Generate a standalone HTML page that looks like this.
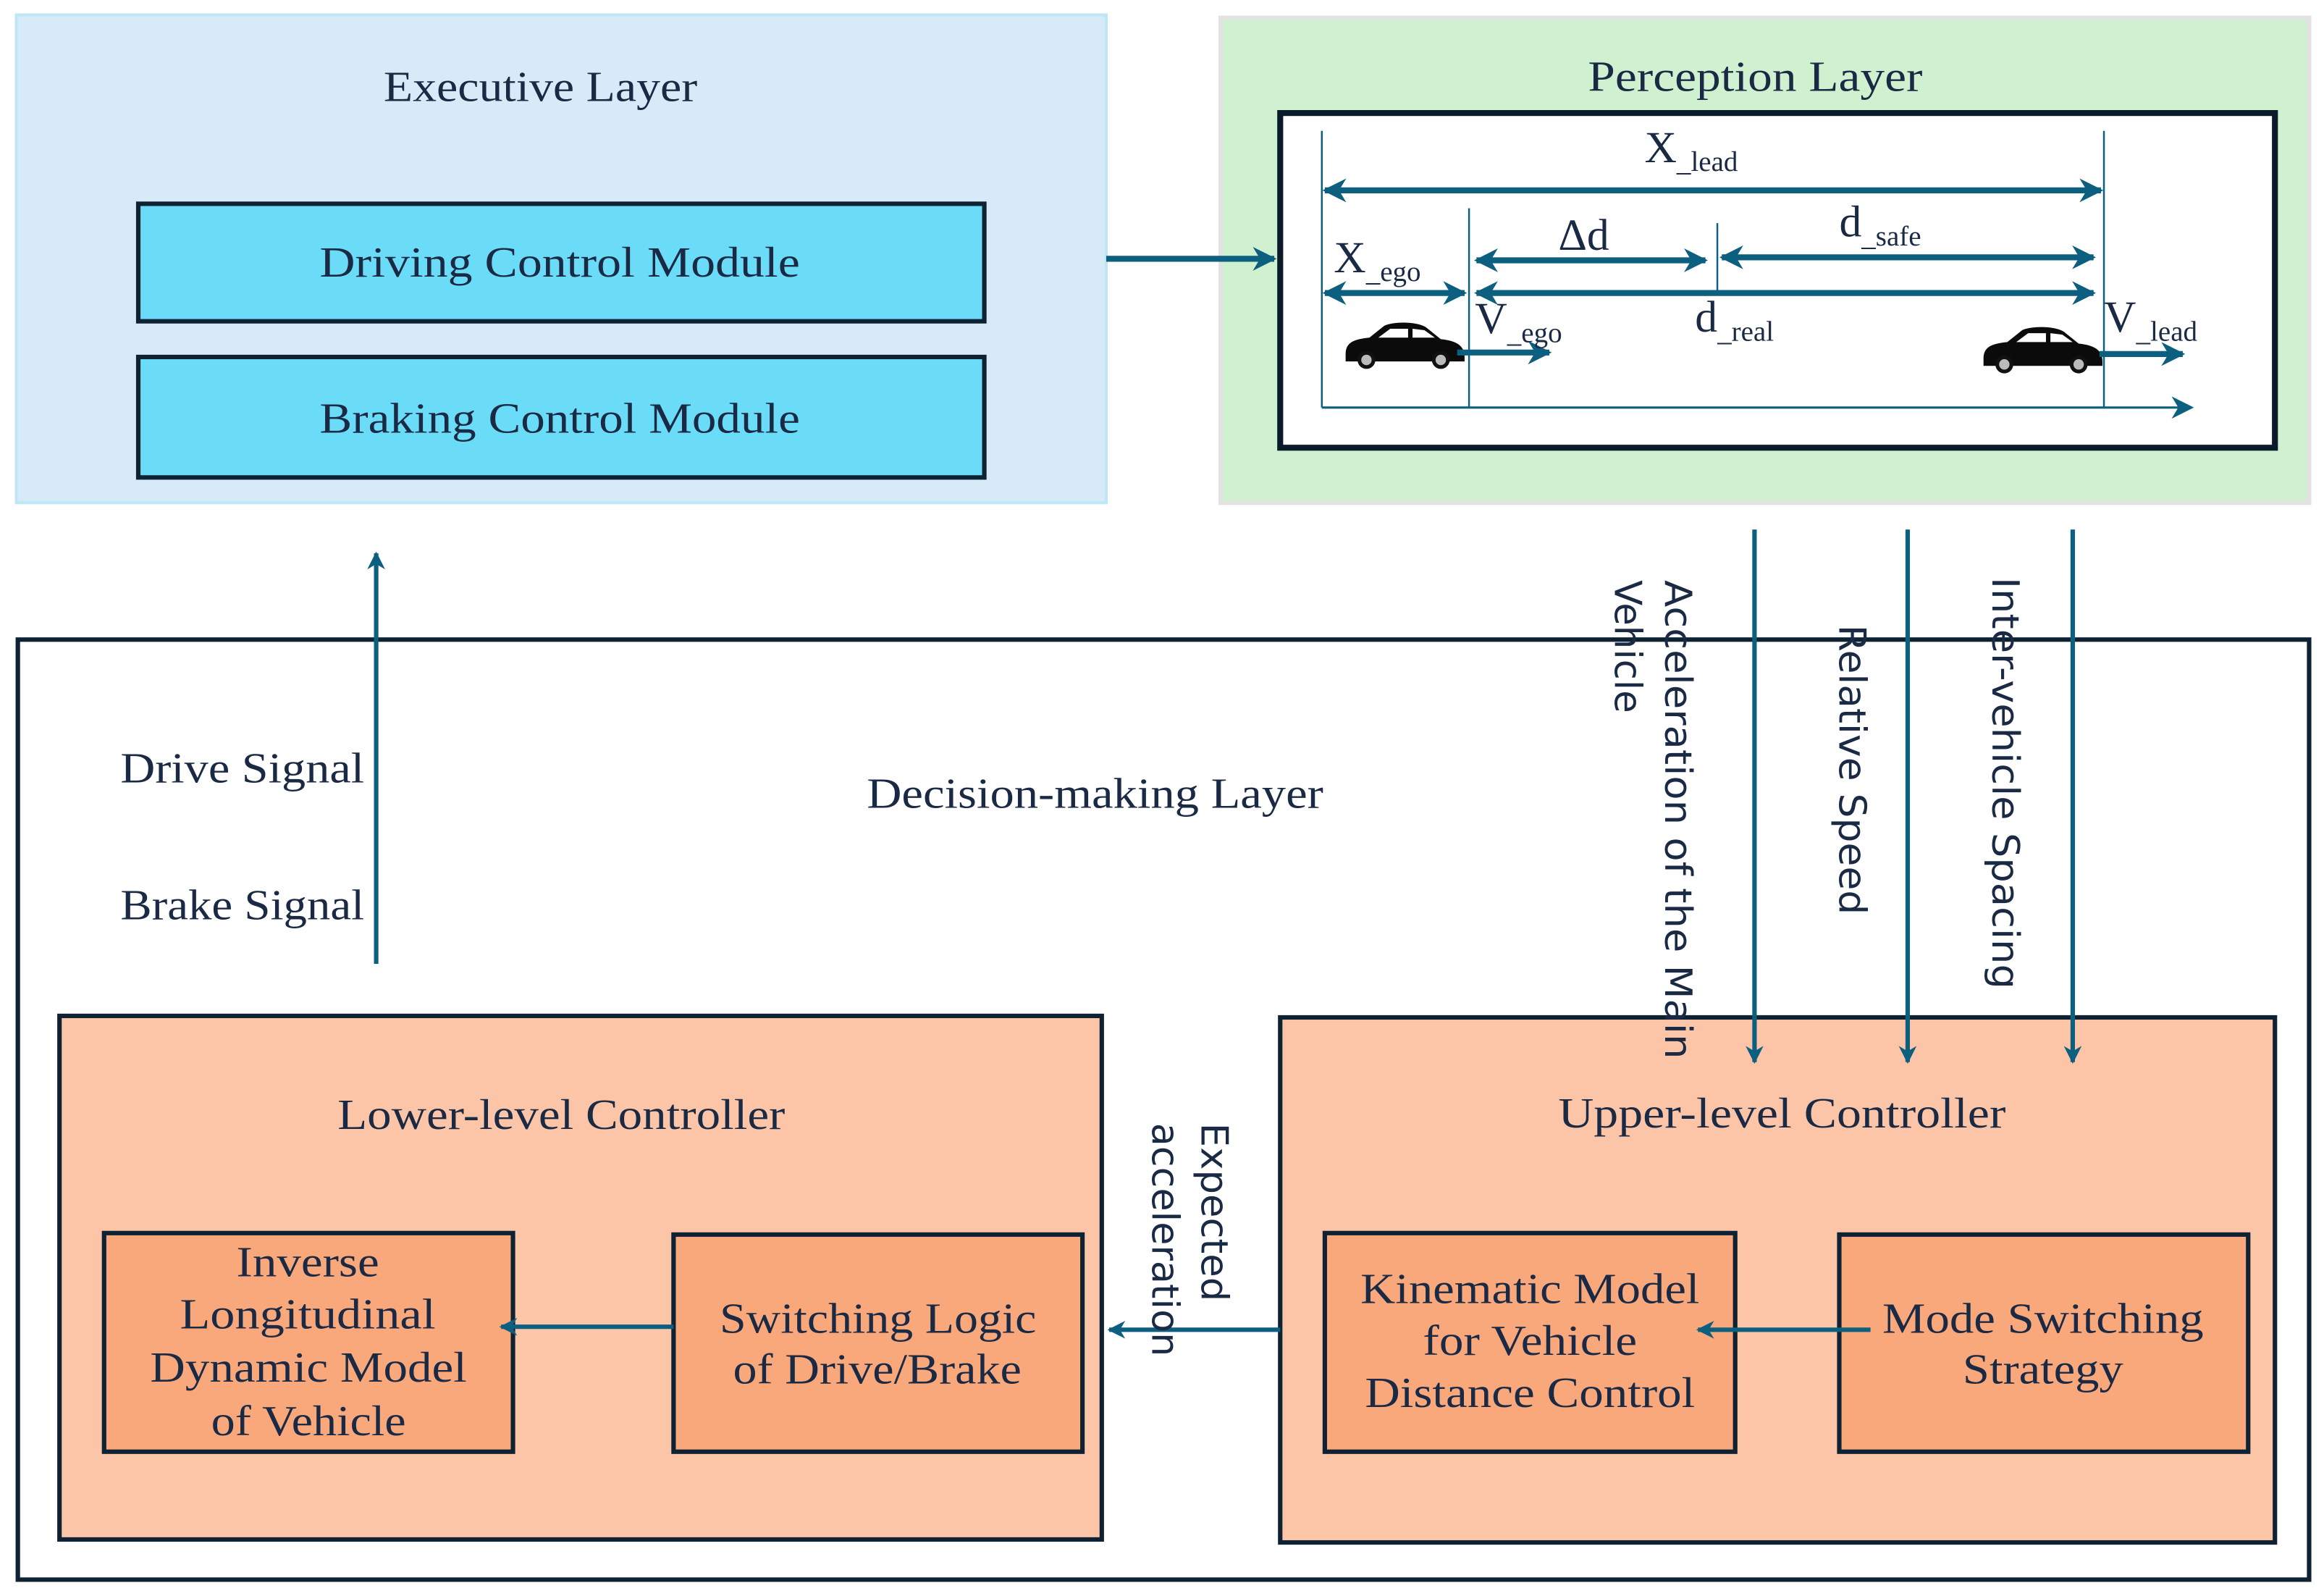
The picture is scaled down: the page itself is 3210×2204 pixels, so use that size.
<!DOCTYPE html>
<html><head><meta charset="utf-8">
<style>
html,body{margin:0;padding:0;background:#fff;}
svg{display:block;}
text{font-family:"Liberation Serif",serif;fill:#1b2a44;}
.s{font-family:"DejaVu Sans","Liberation Sans",sans-serif;}
</style></head>
<body>
<svg width="3210" height="2204" viewBox="0 0 1563 1073" preserveAspectRatio="none" xmlns="http://www.w3.org/2000/svg">
<defs>
<marker id="a" viewBox="0 0 10 10" refX="9" refY="5" markerWidth="4" markerHeight="4" orient="auto-start-reverse" markerUnits="strokeWidth">
<path d="M0,0 L10,5 L0,10 L3,5 z" fill="#0d5f7f"/></marker>
<marker id="b" viewBox="0 0 10 10" refX="9" refY="5" markerWidth="10" markerHeight="10" orient="auto-start-reverse" markerUnits="strokeWidth">
<path d="M0,0 L10,5 L0,10 L3,5 z" fill="#0d5f7f"/></marker>
<g id="car">
<path d="M2,22 C2,14 8,12 18,11 L28,3 C34,0 50,0 56,4 L66,12 C76,13 82,16 82,24 L82,27 L2,27 z" fill="#0b0b0b"/>
<path d="M24,11 L32,5 L44,5 L44,11 z M47,11 L47,5 L55,6 L62,11 z" fill="#fff"/>
<circle cx="16" cy="26" r="6" fill="#111"/><circle cx="16" cy="26" r="3.5" fill="#bbb"/>
<circle cx="66" cy="26" r="6" fill="#111"/><circle cx="66" cy="26" r="3.5" fill="#bbb"/>
</g>
</defs>

<!-- Executive layer -->
<rect x="11" y="10" width="733" height="328" fill="#d7eaf7" stroke="#bfe6f7" stroke-width="2"/>
<text x="258" y="68" font-size="29" textLength="211" lengthAdjust="spacingAndGlyphs">Executive Layer</text>
<rect x="93" y="137" width="569" height="79" fill="#6bdcf8" stroke="#0e2233" stroke-width="3"/>
<text x="215" y="186" font-size="29" textLength="323" lengthAdjust="spacingAndGlyphs">Driving Control Module</text>
<rect x="93" y="240" width="569" height="81" fill="#6bdcf8" stroke="#0e2233" stroke-width="3"/>
<text x="215" y="291" font-size="29" textLength="323" lengthAdjust="spacingAndGlyphs">Braking Control Module</text>

<!-- Perception layer -->
<rect x="821" y="12" width="732" height="326" fill="#cff1d0" stroke="#e2e2e2" stroke-width="3"/>
<text x="1068" y="61" font-size="29" textLength="225" lengthAdjust="spacingAndGlyphs">Perception Layer</text>
<rect x="861" y="76" width="669" height="225" fill="#fff" stroke="#0a1a28" stroke-width="4"/>
<g stroke="#0d5f7f" stroke-width="1.2">
<line x1="889" y1="88" x2="889" y2="274"/>
<line x1="988" y1="140" x2="988" y2="274"/>
<line x1="1155" y1="150" x2="1155" y2="195"/>
<line x1="1415" y1="88" x2="1415" y2="274"/>
</g>
<line x1="889" y1="274" x2="1474" y2="274" stroke="#0d5f7f" stroke-width="1.5" marker-end="url(#b)"/>
<g stroke="#0d5f7f" stroke-width="4" fill="none">
<line x1="891" y1="128" x2="1413" y2="128" marker-start="url(#a)" marker-end="url(#a)"/>
<line x1="891" y1="197" x2="985" y2="197" marker-start="url(#a)" marker-end="url(#a)"/>
<line x1="993" y1="175" x2="1147" y2="175" marker-start="url(#a)" marker-end="url(#a)"/>
<line x1="1158" y1="173" x2="1408" y2="173" marker-start="url(#a)" marker-end="url(#a)"/>
<line x1="993" y1="197" x2="1408" y2="197" marker-start="url(#a)" marker-end="url(#a)"/>
</g>
<use href="#car" x="903" y="216"/>
<use href="#car" x="1332" y="219"/>
<g stroke="#0d5f7f" stroke-width="4">
<line x1="980" y1="237" x2="1042" y2="237" marker-end="url(#a)"/>
<line x1="1412" y1="238" x2="1468" y2="238" marker-end="url(#a)"/>
<line x1="744" y1="174" x2="857" y2="174" marker-end="url(#a)"/>
</g>
<g font-size="30">
<text x="1106" y="109">X<tspan font-size="19" dy="6">_lead</tspan></text>
<text x="897" y="183">X<tspan font-size="19" dy="6">_ego</tspan></text>
<text x="992" y="224">V<tspan font-size="19" dy="6">_ego</tspan></text>
<text x="1048" y="168">Δd</text>
<text x="1237" y="159">d<tspan font-size="19" dy="6">_safe</tspan></text>
<text x="1140" y="223">d<tspan font-size="19" dy="6">_real</tspan></text>
<text x="1415" y="223">V<tspan font-size="19" dy="6">_lead</tspan></text>
</g>

<!-- Decision layer -->
<rect x="12" y="430" width="1541" height="632" fill="#fff" stroke="#0e2233" stroke-width="3"/>
<line x1="253" y1="648" x2="253" y2="372" stroke="#0d5f7f" stroke-width="3" marker-end="url(#a)"/>
<text x="81" y="526" font-size="29" textLength="164" lengthAdjust="spacingAndGlyphs">Drive Signal</text>
<text x="81" y="618" font-size="29" textLength="164" lengthAdjust="spacingAndGlyphs">Brake Signal</text>
<text x="583" y="543" font-size="29" textLength="307" lengthAdjust="spacingAndGlyphs">Decision-making Layer</text>

<!-- Lower-level -->
<rect x="40" y="683" width="701" height="352" fill="#fcc5a8" stroke="#0e2233" stroke-width="3"/>
<text x="227" y="759" font-size="29" textLength="301" lengthAdjust="spacingAndGlyphs">Lower-level Controller</text>
<rect x="70" y="829" width="275" height="147" fill="#f9a87c" stroke="#0e2233" stroke-width="3"/>
<g font-size="29">
<text x="159" y="858" textLength="96" lengthAdjust="spacingAndGlyphs">Inverse</text>
<text x="121" y="893" textLength="172" lengthAdjust="spacingAndGlyphs">Longitudinal</text>
<text x="101" y="929" textLength="213" lengthAdjust="spacingAndGlyphs">Dynamic Model</text>
<text x="142" y="965" textLength="131" lengthAdjust="spacingAndGlyphs">of Vehicle</text>
</g>
<rect x="453" y="830" width="275" height="146" fill="#f9a87c" stroke="#0e2233" stroke-width="3"/>
<g font-size="29">
<text x="484" y="896" textLength="213" lengthAdjust="spacingAndGlyphs">Switching Logic</text>
<text x="493" y="930" textLength="194" lengthAdjust="spacingAndGlyphs">of Drive/Brake</text>
</g>
<line x1="453" y1="892" x2="337" y2="892" stroke="#0d5f7f" stroke-width="3" marker-end="url(#a)"/>

<!-- Upper-level -->
<rect x="861" y="684" width="669" height="353" fill="#fcc5a8" stroke="#0e2233" stroke-width="3"/>
<text x="1048" y="758" font-size="29" textLength="301" lengthAdjust="spacingAndGlyphs">Upper-level Controller</text>
<rect x="891" y="829" width="276" height="147" fill="#f9a87c" stroke="#0e2233" stroke-width="3"/>
<g font-size="29">
<text x="915" y="876" textLength="228" lengthAdjust="spacingAndGlyphs">Kinematic Model</text>
<text x="957" y="911" textLength="144" lengthAdjust="spacingAndGlyphs">for Vehicle</text>
<text x="918" y="946" textLength="222" lengthAdjust="spacingAndGlyphs">Distance Control</text>
</g>
<rect x="1237" y="830" width="275" height="146" fill="#f9a87c" stroke="#0e2233" stroke-width="3"/>
<g font-size="29">
<text x="1266" y="896" textLength="216" lengthAdjust="spacingAndGlyphs">Mode Switching</text>
<text x="1320" y="930" textLength="108" lengthAdjust="spacingAndGlyphs">Strategy</text>
</g>
<line x1="1258" y1="894" x2="1142" y2="894" stroke="#0d5f7f" stroke-width="3" marker-end="url(#a)"/>
<line x1="861" y1="894" x2="746" y2="894" stroke="#0d5f7f" stroke-width="3" marker-end="url(#a)"/>

<!-- Perception outputs (drawn on top) -->
<g stroke="#0d5f7f" stroke-width="3">
<line x1="1180" y1="356" x2="1180" y2="714" marker-end="url(#a)"/>
<line x1="1283" y1="356" x2="1283" y2="714" marker-end="url(#a)"/>
<line x1="1394" y1="356" x2="1394" y2="714" marker-end="url(#a)"/>
</g>
<g font-size="25">
<text class="s" transform="translate(1120,390) rotate(90)" textLength="322" lengthAdjust="spacingAndGlyphs">Acceleration of the Main</text>
<text class="s" transform="translate(1086,390) rotate(90)">Vehicle</text>
<text class="s" transform="translate(1237,420) rotate(90)" textLength="195" lengthAdjust="spacingAndGlyphs">Relative Speed</text>
<text class="s" transform="translate(1340,388) rotate(90)" textLength="277" lengthAdjust="spacingAndGlyphs">Inter-vehicle Spacing</text>
<text class="s" transform="translate(808,755) rotate(90)" textLength="120" lengthAdjust="spacingAndGlyphs">Expected</text>
<text class="s" transform="translate(775,755) rotate(90)" textLength="157" lengthAdjust="spacingAndGlyphs">acceleration</text>
</g>
</svg>
</body></html>
